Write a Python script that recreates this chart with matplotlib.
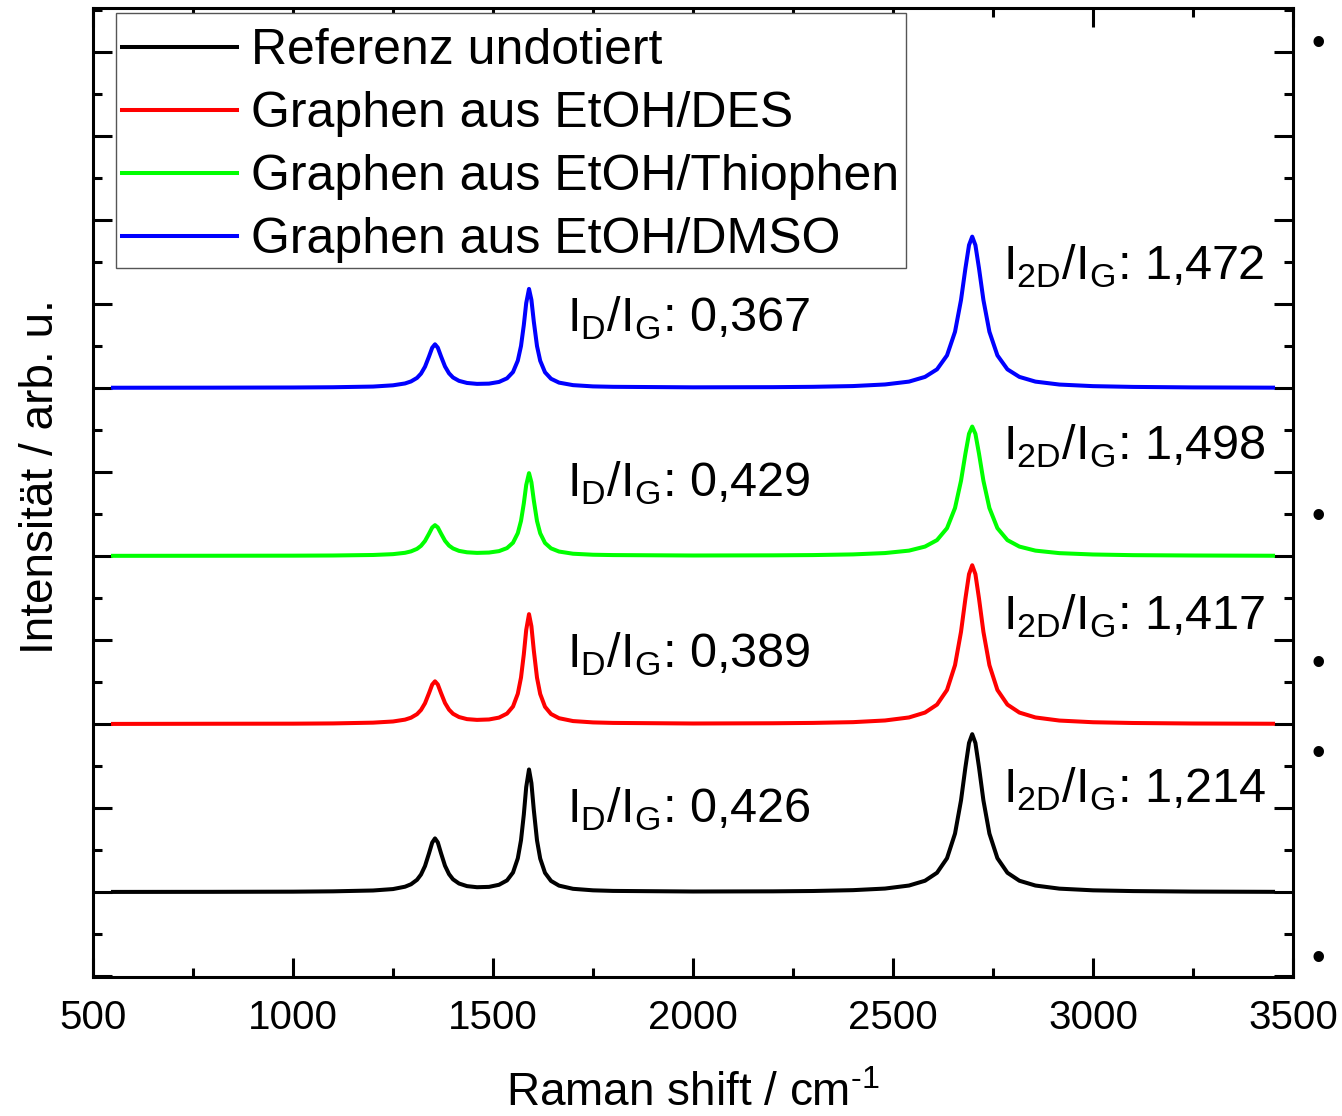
import numpy as np
import matplotlib
matplotlib.use('Agg')
import matplotlib.pyplot as plt
from matplotlib.patches import Rectangle
from matplotlib.ticker import MultipleLocator, NullFormatter

plt.rcParams['font.family'] = ['Liberation Sans', 'DejaVu Sans']
plt.rcParams['mathtext.fontset'] = 'custom'
plt.rcParams['mathtext.rm'] = 'Liberation Sans'

# Raman shift grid (cm^-1)
shift = [550, 800, 1000, 1100, 1200, 1250, 1280, 1295, 1310, 1320, 1330, 1340,
         1348, 1355, 1362, 1370, 1380, 1390, 1400, 1415, 1435, 1460, 1490, 1515,
         1535, 1550, 1562, 1570, 1577, 1583, 1590, 1596, 1602, 1610, 1618, 1630,
         1645, 1665, 1700, 1750, 1800, 2000, 2200, 2300, 2400, 2480, 2540, 2580,
         2610, 2635, 2655, 2670, 2681, 2690, 2698, 2706, 2715, 2726, 2741, 2761,
         2786, 2816, 2856, 2916, 3000, 3100, 3250, 3450]

# intensities above each baseline (arb. u.)
ref = [0.003, 0.004, 0.006, 0.010, 0.020, 0.037, 0.065, 0.094, 0.147, 0.210, 0.311, 0.462,
       0.590, 0.640, 0.592, 0.464, 0.314, 0.215, 0.153, 0.103, 0.072, 0.059, 0.063, 0.088,
       0.140, 0.234, 0.403, 0.618, 0.922, 1.250, 1.460, 1.298, 0.978, 0.616, 0.400, 0.230,
       0.134, 0.078, 0.040, 0.022, 0.015, 0.008, 0.010, 0.014, 0.024, 0.043, 0.079, 0.136,
       0.231, 0.404, 0.697, 1.092, 1.485, 1.775, 1.880, 1.775, 1.485, 1.092, 0.697, 0.404,
       0.231, 0.136, 0.079, 0.042, 0.022, 0.013, 0.007, 0.004]
des = [0.002, 0.004, 0.005, 0.008, 0.017, 0.031, 0.053, 0.076, 0.118, 0.168, 0.248, 0.368,
       0.470, 0.509, 0.471, 0.370, 0.251, 0.172, 0.123, 0.084, 0.059, 0.050, 0.055, 0.077,
       0.125, 0.209, 0.361, 0.554, 0.829, 1.120, 1.308, 1.164, 0.876, 0.552, 0.358, 0.206,
       0.120, 0.070, 0.036, 0.020, 0.014, 0.007, 0.010, 0.014, 0.023, 0.043, 0.079, 0.137,
       0.232, 0.406, 0.701, 1.098, 1.493, 1.784, 1.890, 1.784, 1.493, 1.098, 0.701, 0.406,
       0.232, 0.137, 0.079, 0.042, 0.022, 0.013, 0.007, 0.004]
thio = [0.002, 0.003, 0.004, 0.006, 0.012, 0.022, 0.038, 0.055, 0.085, 0.121, 0.179, 0.265,
        0.339, 0.367, 0.340, 0.267, 0.181, 0.124, 0.090, 0.061, 0.044, 0.037, 0.041, 0.058,
        0.094, 0.158, 0.272, 0.418, 0.625, 0.844, 0.986, 0.877, 0.661, 0.416, 0.270, 0.155,
        0.091, 0.053, 0.027, 0.015, 0.011, 0.006, 0.008, 0.011, 0.019, 0.035, 0.064, 0.112,
        0.189, 0.331, 0.571, 0.895, 1.217, 1.454, 1.540, 1.454, 1.217, 0.895, 0.571, 0.331,
        0.189, 0.112, 0.064, 0.034, 0.018, 0.010, 0.006, 0.003]
dmso = [0.002, 0.003, 0.005, 0.008, 0.016, 0.031, 0.053, 0.077, 0.119, 0.170, 0.252, 0.374,
        0.478, 0.519, 0.479, 0.376, 0.255, 0.174, 0.124, 0.084, 0.059, 0.048, 0.051, 0.071,
        0.114, 0.189, 0.325, 0.499, 0.747, 1.009, 1.178, 1.048, 0.789, 0.498, 0.323, 0.186,
        0.109, 0.063, 0.033, 0.018, 0.013, 0.007, 0.009, 0.013, 0.022, 0.041, 0.075, 0.131,
        0.221, 0.387, 0.668, 1.046, 1.422, 1.699, 1.800, 1.699, 1.422, 1.046, 0.668, 0.387,
        0.221, 0.131, 0.075, 0.040, 0.021, 0.012, 0.006, 0.003]

spectra = [ref, des, thio, dmso]
offsets = [0, 2, 4, 6]
labels = ['Referenz undotiert', 'Graphen aus EtOH/DES',
          'Graphen aus EtOH/Thiophen', 'Graphen aus EtOH/DMSO']
colors = ['#000000', '#ff0000', '#00ff00', '#0000ff']

# ratio annotations
id_ig = ['0,426', '0,389', '0,429', '0,367']
i2d_ig = ['1,214', '1,417', '1,498', '1,472']
id_y = [0.83, 2.67, 4.70, 6.67]
i2d_y = [1.06, 3.12, 5.14, 7.29]

fig = plt.figure(figsize=(13.42, 11.16), dpi=100)
ax = fig.add_axes([0.0693, 0.1245, 0.8942, 0.8683])

for sp, off, lab, col in zip(spectra, offsets, labels, colors):
    ax.plot(shift, np.array(sp) + off, color=col, lw=2.9, label=lab,
            solid_joinstyle='round')

for s, y in zip(id_ig, id_y):
    ax.text(1685, y, r'I$_\mathregular{D}$/I$_\mathregular{G}$: ' + s,
            fontsize=35, va='baseline', ha='left')
for s, y in zip(i2d_ig, i2d_y):
    ax.text(2775, y, r'I$_\mathregular{2D}$/I$_\mathregular{G}$: ' + s,
            fontsize=35, va='baseline', ha='left')

ax.set_xlim(500, 3500)
ax.set_ylim(-1.01, 10.52)
ax.xaxis.set_major_locator(MultipleLocator(500))
ax.xaxis.set_minor_locator(MultipleLocator(250))
ax.yaxis.set_major_locator(MultipleLocator(1))
ax.yaxis.set_minor_locator(MultipleLocator(0.5))
ax.yaxis.set_major_formatter(NullFormatter())
ax.tick_params(which='both', direction='in', top=True, right=True, width=2.2)
ax.tick_params(which='major', length=13.7)
ax.tick_params(which='minor', length=6.5)
ax.tick_params(axis='x', labelsize=29, pad=16)
for sp in ax.spines.values():
    sp.set_linewidth(2.2)

ax.set_xlabel('Raman shift / cm$^\\mathregular{\u20101}$', fontsize=33, labelpad=25)
ax.set_ylabel('Intensität / arb. u.', fontsize=33)
ax.yaxis.set_label_coords(-0.025, 0.516)

# legend entries without frame, box drawn separately (tight left pad, taller rows)
leg = ax.legend(loc='upper left', bbox_to_anchor=(0.0192, 0.9855), borderaxespad=0,
                fontsize=36, handlelength=2.3, handletextpad=0.27,
                labelspacing=0.34, borderpad=0.12, frameon=False)
ax.add_patch(Rectangle((0.0192, 0.7317), 0.6583, 0.2631, transform=ax.transAxes,
                       facecolor='white', edgecolor='#555555', lw=1.0, zorder=4))
leg.set_zorder(5)

# stray bullets at the right edge of the slide
for by in [45, 518, 665, 755, 960]:
    fig.text(1318 / 1342, 1 - by / 1116, '\u2022', fontsize=28,
             ha='center', va='center')

fig.savefig('out.png', dpi=100)
